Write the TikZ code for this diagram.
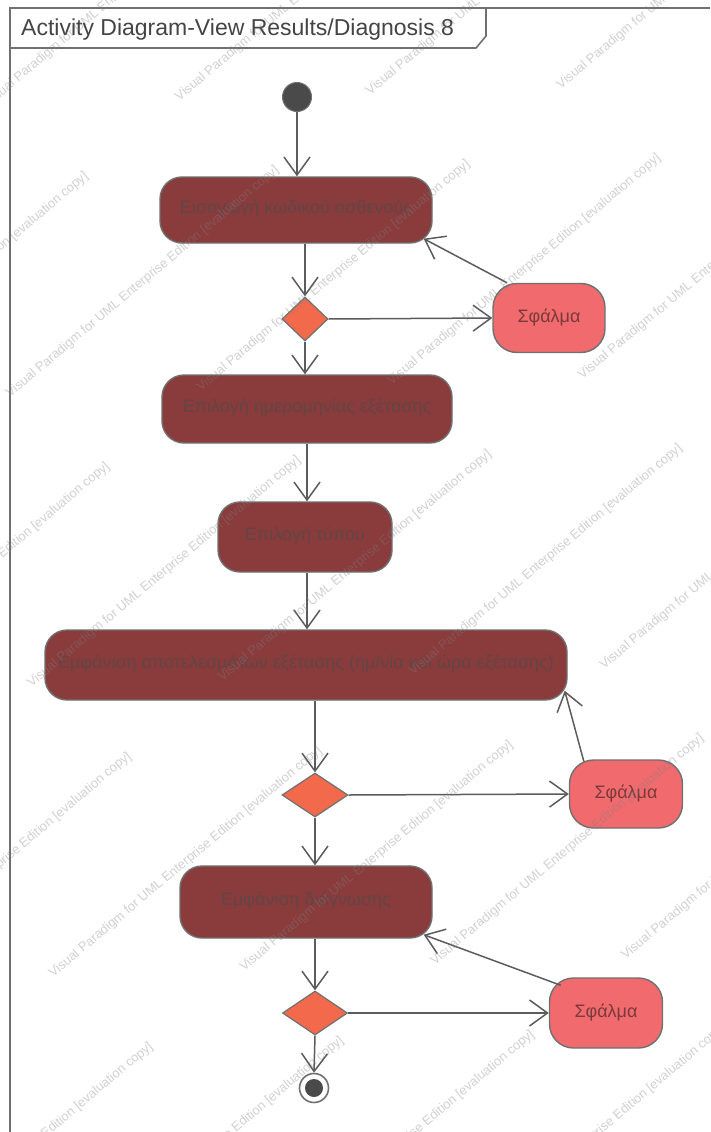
\documentclass[tikz,border=0pt]{standalone}
\usepackage{fontspec}
\setmainfont{Liberation Sans}
\usetikzlibrary{shapes.geometric,arrows.meta,calc}

\definecolor{actfill}{HTML}{8A3B3C}
\definecolor{actink}{HTML}{634545}
\definecolor{errfill}{HTML}{F06A6E}
\definecolor{errink}{HTML}{7A3A3A}
\definecolor{decfill}{HTML}{F26A4B}
\definecolor{edgegray}{HTML}{5C5C5C}
\definecolor{rimgray}{HTML}{707070}
\definecolor{titleink}{HTML}{444444}
\definecolor{nodedark}{HTML}{4A4A4A}

\tikzset{
  actbox/.style={rectangle, rounded corners=22pt, fill=actfill, draw=rimgray,
    line width=1.4pt, inner sep=0pt, text=actink,
    font=\fontsize{18}{21}\selectfont},
  errbox/.style={rectangle, rounded corners=24pt, fill=errfill, draw=rimgray,
    line width=1.4pt, inner sep=0pt, text=errink,
    minimum width=112pt, minimum height=69pt,
    font=\fontsize{18}{21}\selectfont},
  decbox/.style={diamond, fill=decfill, draw=rimgray, line width=1.2pt,
    inner sep=0pt, minimum width=#1, minimum height=44pt},
  startdot/.style={circle, fill=nodedark, draw=rimgray, line width=1pt,
    minimum size=29pt, inner sep=0pt},
  enddot/.style={circle, fill=white, draw=rimgray, line width=1.6pt,
    minimum size=29pt, inner sep=0pt},
  flow/.style={draw=edgegray, line width=1.5pt,
    -{Straight Barb[length=18pt, width=26pt, line width=1.5pt]}},
  frameline/.style={draw=rimgray, line width=1.6pt},
  wm/.style={text=gray, opacity=0.36, font=\fontsize{13}{15}\selectfont,
    inner sep=0pt, rotate=40},
}

\begin{document}
\begin{tikzpicture}[x=1pt, y=-1pt]
\useasboundingbox (0,0) rectangle (710,1132);
\fill[white] (0,0) rectangle (710,1132);

% diagram frame and name tab
\draw[frameline] (10,1132) -- (10,8) -- (710,8);
\draw[frameline] (10,48) -- (476,48) -- (486,36) -- (486,8);
\node[anchor=west, text=titleink, font=\fontsize{23}{26}\selectfont, inner sep=0pt]
  (title) at (21,30) {Activity Diagram-View Results/Diagnosis 8};

% activity nodes
\node[startdot] (start) at (297,97) {};
\node[actbox, minimum width=272pt, minimum height=66pt] (a1) at (296,210)
  {\raisebox{6pt}{Εισαγωγή κωδικού ασθενούς}};
\node[decbox=46pt] (d1) at (305,319) {};
\node[errbox] (e1) at (549,318) {Σφάλμα};
\node[actbox, minimum width=290pt, minimum height=68pt] (a2) at (307,409)
  {\raisebox{6pt}{Επιλογή ημερομηνίας εξέτασης}};
\node[actbox, minimum width=174pt, minimum height=70pt] (a3) at (305,537)
  {\raisebox{6pt}{Επιλογή τύπου}};
\node[actbox, minimum width=522pt, minimum height=70pt] (a4) at (306,665)
  {\raisebox{6pt}{Εμφάνιση αποτελεσμάτων εξέτασης (ημ/νία και ώρα εξέτασης)}};
\node[decbox=66pt] (d2) at (315,795) {};
\node[errbox, minimum width=113pt, minimum height=68pt] (e2) at (626,794) {Σφάλμα};
\node[actbox, minimum width=252pt, minimum height=72pt] (a5) at (306,902)
  {\raisebox{6pt}{Εμφάνιση διάγνωσης}};
\node[decbox=65pt] (d3) at (315,1013) {};
\node[errbox, minimum width=113pt, minimum height=70pt] (e3) at (606,1013) {Σφάλμα};
\node[enddot] (end) at (314,1088) {};
\fill[nodedark] (end.center) circle (9pt);

% control flows
\draw[flow] (start.south) -- (start.south |- a1.north);
\draw[flow] (a1.south -| d1.north) -- (d1.north);
\draw[flow] (d1.east) -- (e1.west);
\draw[flow] (e1.140) -- ($(a1.south east)+(-9,-5)$);
\draw[flow] (d1.south) -- (d1.south |- a2.north);
\draw[flow] (a2.south) -- (a2.south |- a3.north);
\draw[flow] (a3.south -| a2.south) -- (a2.south |- a4.north);
\draw[flow] (a4.south -| d2.north) -- (d2.north);
\draw[flow] (d2.east) -- (e2.west);
\draw[flow] ($(e2.north west)+(15,2)$) -- ($(a4.south east)+(-3,-10)$);
\draw[flow] (d2.south) -- (d2.south |- a5.north);
\draw[flow] (a5.south -| d3.north) -- (d3.north);
\draw[flow] (d3.east) -- (e3.west);
\draw[flow] ($(e3.north west)+(12,8)$) -- ($(a5.south east)+(-9,-4)$);
\draw[flow] (d3.south) -- (end.north);

% evaluation watermark: diagonal rows covering the whole sheet
\begin{scope}
  \clip (0,0) rectangle (710,1132);
  \foreach \j in {-8,...,8} {
    \foreach \i in {-3,...,3} {
      \pgfmathsetmacro\du{\i*470+\j*150}
      \pgfmathsetmacro\dv{\j*118}
      \pgfmathsetmacro\px{355+\du*0.766+\dv*0.643}
      \pgfmathsetmacro\py{566-\du*0.643+\dv*0.766}
      \pgfmathtruncatemacro\inside{and(and(\px>-140,\px<850),and(\py>-120,\py<1250))}
      \ifnum\inside=1
        \node[wm] at (\px,\py)
          {Visual Paradigm for UML Enterprise Edition [evaluation copy]};
      \fi
    }
  }
\end{scope}
\end{tikzpicture}
\end{document}
